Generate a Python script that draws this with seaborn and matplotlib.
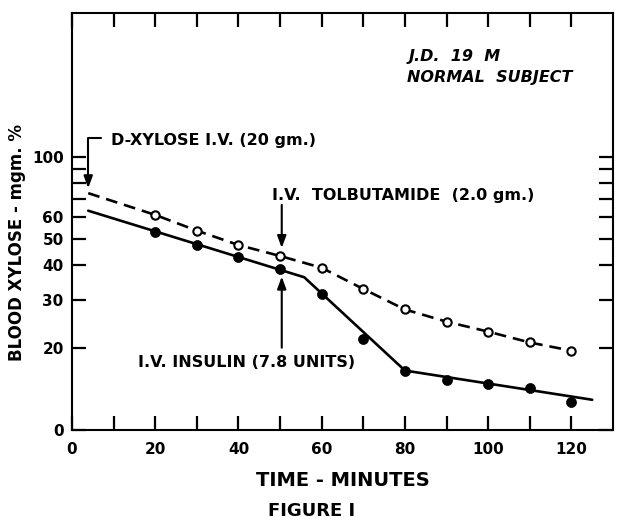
import matplotlib
matplotlib.use("Agg")
import matplotlib.pyplot as plt
import seaborn as sns
import pandas as pd
from matplotlib.ticker import FixedLocator, FixedFormatter, NullLocator

# ---- data ----
time_points = [20, 30, 40, 50, 60, 70, 80, 90, 100, 110, 120]
insulin_points = [52.9, 47.5, 43.0, 38.7, 31.4, 21.5, 16.5, 15.2, 14.7, 14.3, 12.7]
tolbutamide_points = [61.2, 53.6, 47.5, 43.3, 39.2, 32.8, 27.6, 24.9, 22.9, 20.9, 19.5]

insulin_curve_t = [3.9, 55.8, 80, 125]
insulin_curve_v = [63.4, 36.2, 16.5, 12.9]
tolb_curve_t = [3.9] + time_points
tolb_curve_v = [73.5] + tolbutamide_points

x_ticks = [0, 10, 20, 30, 40, 50, 60, 70, 80, 90, 100, 110, 120]
x_labels = ["0", "", "20", "", "40", "", "60", "", "80", "", "100", "", "120"]
y_ticks = [10, 20, 30, 40, 50, 60, 70, 80, 90, 100]
y_labels = ["0", "20", "30", "40", "50", "60", "", "", "", "100"]

sns.set_theme(style="ticks", rc={"text.color": "black", "axes.labelcolor": "black",
                                  "xtick.color": "black", "ytick.color": "black"})
plt.rcParams["font.family"] = ["DejaVu Sans"]
plt.rcParams["font.weight"] = "bold"
plt.rcParams["axes.labelweight"] = "bold"
plt.rcParams["lines.scale_dashes"] = False

fig = plt.figure(figsize=(6.18, 5.2), dpi=100)
ax = fig.add_axes([72 / 618, 90 / 520, (613 - 72) / 618, (430 - 12.7) / 520])

pts = pd.DataFrame({"t": time_points, "ins": insulin_points, "tol": tolbutamide_points})
c_ins = pd.DataFrame({"t": insulin_curve_t, "v": insulin_curve_v})
c_tol = pd.DataFrame({"t": tolb_curve_t, "v": tolb_curve_v})

sns.lineplot(data=c_tol, x="t", y="v", ax=ax, color="black", lw=1.9,
             linestyle=(0, (8.5, 5.0)), estimator=None, sort=False, zorder=2)
sns.lineplot(data=c_ins, x="t", y="v", ax=ax, color="black", lw=1.9,
             estimator=None, sort=False, zorder=2)
sns.scatterplot(data=pts, x="t", y="tol", ax=ax, s=36, color="white",
                edgecolor="black", linewidth=1.5, zorder=3)
sns.scatterplot(data=pts, x="t", y="ins", ax=ax, s=52, color="black",
                edgecolor="black", linewidth=0.5, zorder=3)

ax.set_yscale("log")
ax.set_xlim(0, 130)
ax.set_ylim(10, 336)
ax.xaxis.set_major_locator(FixedLocator(x_ticks))
ax.xaxis.set_major_formatter(FixedFormatter(x_labels))
ax.yaxis.set_major_locator(FixedLocator(y_ticks))
ax.yaxis.set_major_formatter(FixedFormatter(y_labels))
ax.yaxis.set_minor_locator(NullLocator())
ax.xaxis.set_minor_locator(NullLocator())
ax.tick_params(axis="both", which="major", direction="in", top=True, right=True,
               length=10, width=1.6, labelsize=11, color="black")
ax.tick_params(axis="x", pad=9)
ax.tick_params(axis="y", pad=6)
for s in ax.spines.values():
    s.set_linewidth(1.5)
    s.set_color("black")

ax.set_xlabel("TIME - MINUTES", fontsize=14, labelpad=10)
ax.set_ylabel("BLOOD XYLOSE - mgm. %", fontsize=12, labelpad=8)
ax.yaxis.set_label_coords(-0.085, 0.45)
fig.text(312 / 618, 1 - 511 / 520, "FIGURE I", fontsize=13, ha="center", va="center")

# annotations
ax.text(81, 232, "J.D.  19  M", fontsize=11.5, style="italic", ha="left", va="center")
ax.text(80.5, 195, "NORMAL  SUBJECT", fontsize=11.5, style="italic", ha="left", va="center")

arrow = dict(arrowstyle="-|>,head_length=0.6,head_width=0.22", color="black", lw=1.5,
             shrinkA=0, shrinkB=0)
ax.annotate("", xy=(3.9, 76.6), xytext=(7.0, 116.8),
            arrowprops=dict(arrow, connectionstyle="angle,angleA=0,angleB=90,rad=0"))
ax.text(9.3, 115, "D-XYLOSE I.V. (20 gm.)", fontsize=11.5, ha="left", va="center")

ax.annotate("", xy=(50.4, 46.3), xytext=(50.4, 66.6), arrowprops=arrow)
ax.text(48, 71.8, "I.V.  TOLBUTAMIDE  (2.0 gm.)", fontsize=11.5, ha="left", va="center")

ax.annotate("", xy=(50.4, 36.4), xytext=(50.4, 20.0), arrowprops=arrow)
ax.text(42, 17.6, "I.V. INSULIN (7.8 UNITS)", fontsize=11.5, ha="center", va="center")

fig.savefig("out.png", dpi=100)
